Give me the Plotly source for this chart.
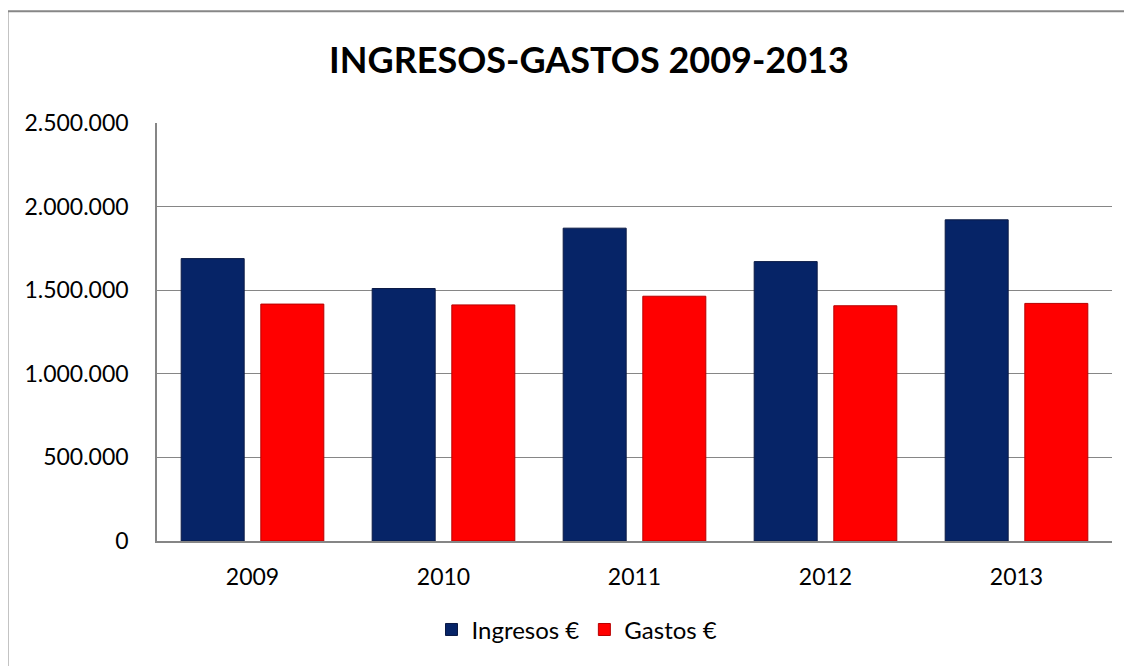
import plotly.graph_objects as go

years = ["2009", "2010", "2011", "2012", "2013"]
ingresos = [1689000, 1510000, 1871000, 1671000, 1921000]
gastos = [1417000, 1412000, 1464000, 1407000, 1421000]
y_ticks = [0, 500000, 1000000, 1500000, 2000000, 2500000]

FONT = "Lato, Carlito, Calibri, sans-serif"

fig = go.Figure()
fig.add_trace(go.Bar(
    x=years, y=ingresos, name="Ingresos €",
    marker=dict(color="#062467", line=dict(color="#0b1a45", width=1)),
))
fig.add_trace(go.Bar(
    x=years, y=gastos, name="Gastos €",
    marker=dict(color="#FF0000", line=dict(color="#b80000", width=1)),
))

OFF = 8  # page body margin
W, H = 1132 - OFF, 666 - OFF
# target screen coordinates of plot area
SL, SR, ST, SB = 157, 1112, 122.5, 541
L, T = SL - OFF, ST - OFF
R = W - (SR - OFF)
B = H - (SB - OFF)
pw = W - L - R
ph = H - T - B

def px_x(sx):
    return (sx - SL) / pw

def px_y(sy):
    return (SB - sy) / ph

fig.update_layout(
    width=W, height=H,
    margin=dict(l=L, r=R, t=T, b=B, pad=0),
    paper_bgcolor="white", plot_bgcolor="white",
    separators=",.",
    barmode="group", bargap=0.166, bargroupgap=0.209,
    font=dict(family=FONT, size=23, color="#000000"),
    title=dict(text="<b>INGRESOS-GASTOS 2009-2013</b>",
               x=(589 - OFF) / W, xanchor="center",
               y=1 - (60.5 - OFF) / H, yanchor="middle",
               font=dict(family=FONT, size=36, color="#000000")),
    showlegend=True,
    legend=dict(orientation="h", x=px_x(577), xanchor="center",
                y=px_y(630), yanchor="middle",
                font=dict(family=FONT, size=24), itemwidth=30,
                traceorder="normal", bgcolor="rgba(0,0,0,0)"),
    xaxis=dict(showgrid=False, showline=True, linecolor="#868686", linewidth=1.5,
               ticks="", ticklabelstandoff=15, tickfont=dict(family=FONT, size=23)),
    yaxis=dict(range=[0, 2500000], tickvals=y_ticks, tickformat=",d",
               showgrid=True, gridcolor="#868686", gridwidth=1.3,
               showline=True, linecolor="#868686", linewidth=1.5,
               ticks="", ticklabelstandoff=22, zeroline=False,
               tickfont=dict(family=FONT, size=23)),
    shapes=[dict(type="rect", xref="paper", yref="paper",
                 x0=px_x(7.5), x1=px_x(1160), y0=px_y(700), y1=px_y(10.5),
                 line=dict(color="#878787", width=2), fillcolor="rgba(0,0,0,0)",
                 layer="below")],
)

fig.write_html("out.html")
